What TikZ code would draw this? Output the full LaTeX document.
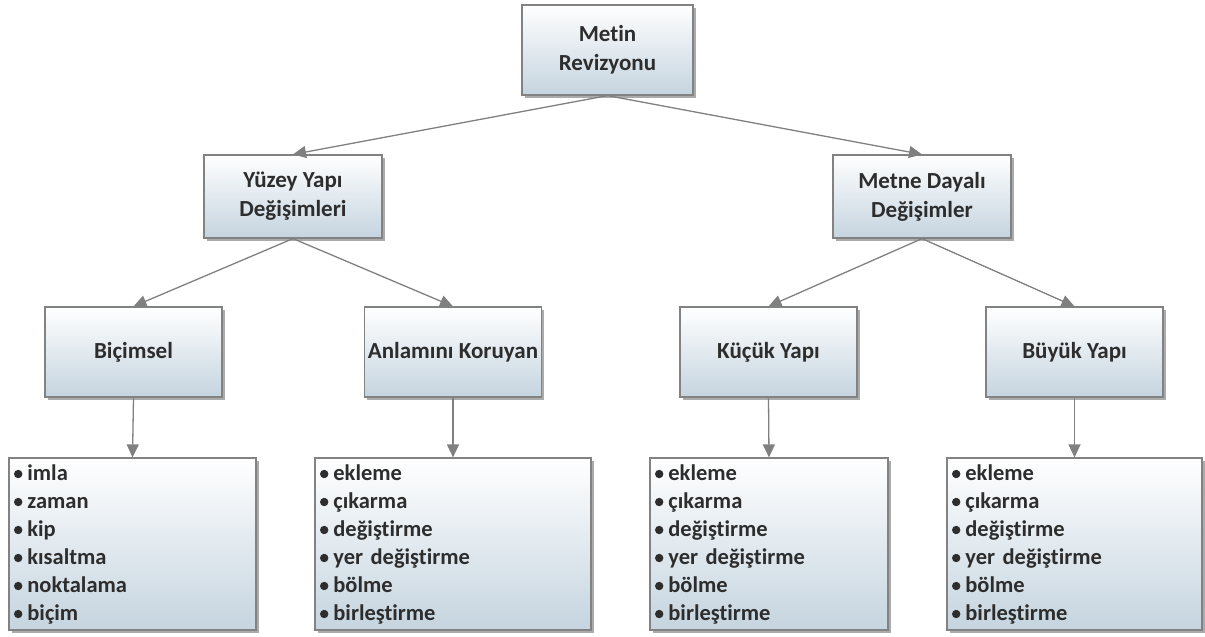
\documentclass[tikz,border=0pt]{standalone}
\usepackage{fontspec}
\setmainfont{Carlito}[Ligatures=NoCommon]
\usepackage{tikz}
\usepackage{xcolor}
\usetikzlibrary{arrows.meta,shadows}
\definecolor{boxline}{RGB}{130,130,130}
\definecolor{boxbottom}{RGB}{197,212,223}
\definecolor{inktext}{RGB}{45,45,45}
\definecolor{linkgray}{RGB}{128,128,128}
\newcommand{\blt}{\tikz[x=1pt,y=1pt,baseline=0pt]\fill (4,6) circle (4.2);\hspace{5pt}}
\tikzset{
  box/.style={draw=boxline, line width=1.2pt, top color=white, bottom color=boxbottom,
    drop shadow={shadow xshift=2.5pt, shadow yshift=-2.5pt, fill=black!60, opacity=0.55},
    text=inktext, font=\fontsize{23}{29}\selectfont\bfseries, align=center, inner sep=0pt},
  listbox/.style={box, align=left, font=\fontsize{22.5}{28}\selectfont\bfseries,
    inner xsep=5pt, minimum height=172pt},
  link/.style={draw=linkgray, line width=1.3pt, -{Triangle[length=13pt,width=12pt]}}
}

\begin{document}
\begin{tikzpicture}[x=1pt,y=-1pt]
\useasboundingbox (0,0) rectangle (1205,637);
% top level
\node[box, minimum width=171pt, minimum height=90pt] (rev) at (607.5,50) {Metin\\Revizyonu};
% second level
\node[box, minimum width=178pt, minimum height=83pt] (yuzey) at (293,196.5) {Yüzey Yapı\\Değişimleri};
\node[box, minimum width=178pt, minimum height=83pt] (metne) at (922,196.5) {Metne Dayalı\\Değişimler};
% third level
\node[box, minimum width=177pt, minimum height=90pt] (bicimsel) at (133.5,352) {Biçimsel};
\node[box, minimum width=177pt, minimum height=90pt] (anlam) at (453,352) {Anlamını Koruyan};
\node[box, minimum width=177pt, minimum height=90pt] (kucuk) at (768.5,352) {Küçük Yapı};
\node[box, minimum width=177pt, minimum height=90pt] (buyuk) at (1074.5,352) {Büyük Yapı};
% lists
\node[listbox, text width=237pt] (bicimlist) at (132.5,544)
  {\blt imla\\\blt zaman\\\blt kip\\\blt kısaltma\\\blt noktalama\\\blt biçim};
\node[listbox, text width=266pt] (anlamlist) at (453,544)
  {\blt ekleme\\\blt çıkarma\\\blt değiştirme\\\blt yer değiştirme\\\blt bölme\\\blt birleştirme};
\node[listbox, text width=228pt] (kucuklist) at (769,544)
  {\blt ekleme\\\blt çıkarma\\\blt değiştirme\\\blt yer değiştirme\\\blt bölme\\\blt birleştirme};
\node[listbox, text width=245pt] (buyuklist) at (1074.5,544)
  {\blt ekleme\\\blt çıkarma\\\blt değiştirme\\\blt yer değiştirme\\\blt bölme\\\blt birleştirme};
% connectors
\draw[link] (rev.south) -- (yuzey.north);
\draw[link] (rev.south) -- (metne.north);
\draw[link] (yuzey.south) -- (bicimsel.north);
\draw[link] (yuzey.south) -- (anlam.north);
\draw[link] (metne.south) -- (kucuk.north);
\draw[link] (metne.south) -- (buyuk.north);
\draw[link] (bicimsel.south) -- (bicimlist.north);
\draw[link] (anlam.south) -- (anlamlist.north);
\draw[link] (kucuk.south) -- (kucuklist.north);
\draw[link] (buyuk.south) -- (buyuklist.north);
\end{tikzpicture}
\end{document}
